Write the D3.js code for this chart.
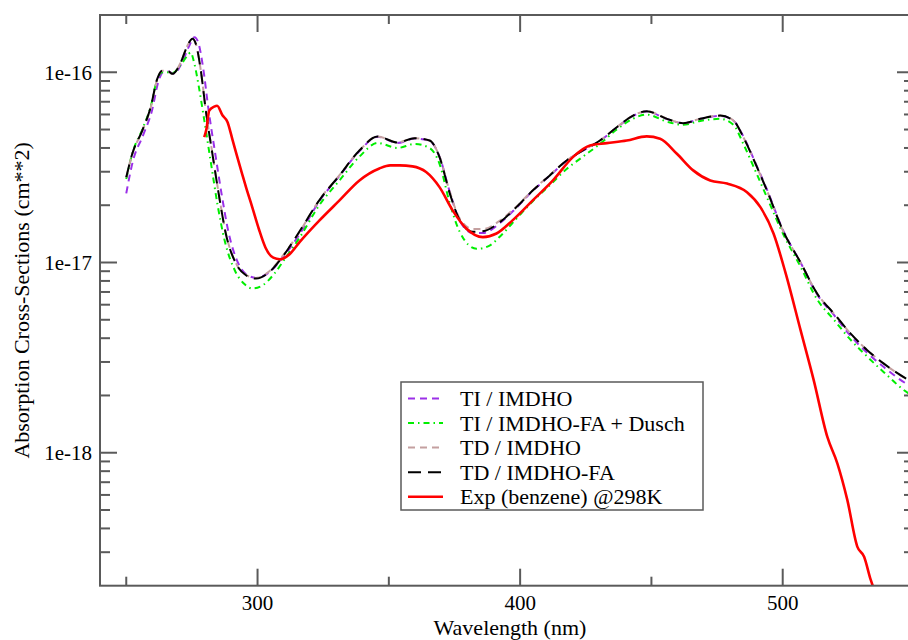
<!DOCTYPE html>
<html><head><meta charset="utf-8">
<script src="https://cdn.jsdelivr.net/npm/d3@7/dist/d3.min.js"></script>
<style>body{margin:0;background:#fff}svg{display:block}text{font-family:"Liberation Serif","Times New Roman",serif}</style>
</head><body>
<svg id="c" width="908" height="640"></svg>
<script>
// ---------- data ----------
const xTicksMajor = [300, 400, 500];
const xTicksMinor = [250, 350, 450, 550];
const yTicksMajor = [1e-18, 1e-17, 1e-16];

const wlTIIMDHO = [250,252.5,256.5,259.8,262.3,264,266,268,271.2,273.8,276,277.3,279.3,281.3,283.8,286.4,288.9,292.5,296,299.6,304.5,309.5,315.9,323.5,331.2,338.8,345.7,353.3,359.8,365.5,369.3,373.2,377,382,385.8,392.3,398.6,404.8,411.3,417.7,423.9,430.4,436.8,443,448.2,455.9,462.1,468.6,476.2,481.2,485,490.2,494,500.3,506.8,513.1,519.5,525.8,532.2,538.5,548,550];
const sigTIIMDHO = [2.31e-17,3.4e-17,4.7e-17,6.3e-17,9.0e-17,1.0e-16,1.01e-16,9.8e-17,1.12e-16,1.36e-16,1.53e-16,1.45e-16,1.05e-16,6.4e-17,3.8e-17,2.25e-17,1.45e-17,1.0e-17,8.6e-18,8.3e-18,8.9e-18,1.06e-17,1.4e-17,2.1e-17,2.85e-17,3.85e-17,4.58e-17,4.25e-17,4.48e-17,4.36e-17,3.6e-17,2.35e-17,1.66e-17,1.43e-17,1.43e-17,1.61e-17,1.94e-17,2.38e-17,2.86e-17,3.43e-17,3.87e-17,4.36e-17,5.12e-17,5.9e-17,6.22e-17,5.68e-17,5.4e-17,5.68e-17,5.9e-17,5.58e-17,4.6e-17,3.2e-17,2.42e-17,1.46e-17,1.0e-17,6.8e-18,5.3e-18,4.12e-18,3.35e-18,2.82e-18,2.27e-18,2.2e-18];

const wlTIFAD = [250,252.3,256.1,259.3,261.8,263.7,265.6,267.6,270.8,273.3,274.5,276,277.7,279.8,282.3,284.8,287.5,291.5,295,298,302,306,310.5,316,323.5,331.2,338.8,345.7,353.3,359.8,365.5,369.3,373.2,377,383.4,388,393,398.6,404.8,411.3,417.7,423.9,430.4,436.8,443,448.2,455.9,462.1,468.6,476.2,481.2,485,490.2,494,500.3,506.8,513.1,519.5,525.8,532.2,538.5,548,550];
const sigTIFAD = [2.75e-17,3.75e-17,5.0e-17,6.6e-17,9.2e-17,1.0e-16,1.0e-16,9.9e-17,1.1e-16,1.22e-16,1.27e-16,1.1e-16,8.3e-17,5.5e-17,3.3e-17,2.0e-17,1.3e-17,9.0e-18,7.7e-18,7.3e-18,7.6e-18,8.6e-18,1.05e-17,1.35e-17,2.0e-17,2.7e-17,3.6e-17,4.25e-17,4.0e-17,4.2e-17,4.0e-17,3.3e-17,2.05e-17,1.45e-17,1.18e-17,1.22e-17,1.4e-17,1.7e-17,2.1e-17,2.55e-17,3.1e-17,3.6e-17,4.2e-17,5.0e-17,5.7e-17,5.99e-17,5.5e-17,5.3e-17,5.55e-17,5.69e-17,5.3e-17,4.2e-17,2.9e-17,2.2e-17,1.4e-17,9.5e-18,6.4e-18,5.0e-18,3.93e-18,3.2e-18,2.65e-18,2.05e-18,1.98e-18];

const wlTDIMDHO = [250,252.3,256.1,259.3,261.8,263.7,265.6,267.6,270.8,273.3,275.2,276.5,278.4,280.3,282.8,285.4,287.9,291.8,295.6,299.4,304.5,309.5,315.9,323.5,331.2,338.8,345.7,353.3,359.8,365.5,369.3,373.2,377,382,385.8,392.3,398.6,404.8,411.3,417.7,423.9,430.4,436.8,443,448.2,455.9,462.1,468.6,476.2,481.2,485,490.2,494,500.3,506.8,513.1,519.5,525.8,532.2,538.5,548,550];
const sigTDIMDHO = [2.8e-17,3.72e-17,4.93e-17,6.5e-17,9.2e-17,1.02e-16,1.02e-16,9.8e-17,1.13e-16,1.38e-16,1.5e-16,1.41e-16,1.02e-16,6.3e-17,3.75e-17,2.22e-17,1.43e-17,9.9e-18,8.6e-18,8.3e-18,9.0e-18,1.08e-17,1.44e-17,2.13e-17,2.88e-17,3.88e-17,4.6e-17,4.28e-17,4.5e-17,4.38e-17,3.6e-17,2.35e-17,1.7e-17,1.5e-17,1.5e-17,1.66e-17,1.97e-17,2.4e-17,2.88e-17,3.44e-17,3.88e-17,4.38e-17,5.14e-17,5.92e-17,6.24e-17,5.7e-17,5.4e-17,5.7e-17,5.92e-17,5.58e-17,4.56e-17,3.17e-17,2.39e-17,1.45e-17,1.0e-17,6.87e-18,5.39e-18,4.24e-18,3.46e-18,2.94e-18,2.41e-18,2.33e-18];

const wlTDFA = [250,252.3,256.1,259.3,261.8,263.7,265.6,267.6,270.8,273.3,275.2,276.5,278.4,280.3,282.8,285.4,287.9,291.8,295.6,299.4,304.5,309.5,315.9,323.5,331.2,338.8,345.7,353.3,359.8,365.5,369.3,373.2,377,382,385.8,392.3,398.6,404.8,411.3,417.7,423.9,430.4,436.8,443,448.2,455.9,462.1,468.6,476.2,481.2,485,490.2,494,500.3,506.8,513.1,519.5,525.8,532.2,538.5,548,550];
const sigTDFA = [2.81e-17,3.73e-17,4.94e-17,6.55e-17,9.23e-17,1.02e-16,1.02e-16,9.81e-17,1.13e-16,1.38e-16,1.5e-16,1.41e-16,1.02e-16,6.29e-17,3.73e-17,2.21e-17,1.42e-17,9.87e-18,8.57e-18,8.23e-18,8.91e-18,1.07e-17,1.45e-17,2.12e-17,2.87e-17,3.88e-17,4.6e-17,4.27e-17,4.5e-17,4.38e-17,3.58e-17,2.31e-17,1.67e-17,1.45e-17,1.46e-17,1.63e-17,1.955e-17,2.39e-17,2.87e-17,3.44e-17,3.88e-17,4.38e-17,5.14e-17,5.92e-17,6.24e-17,5.69e-17,5.4e-17,5.69e-17,5.92e-17,5.58e-17,4.56e-17,3.17e-17,2.39e-17,1.45e-17,1.0e-17,6.87e-18,5.39e-18,4.24e-18,3.46e-18,2.94e-18,2.41e-18,2.33e-18];

const wlExp = [279.7,280.5,281.6,283.5,284.6,286.7,288.5,290.5,292,294.2,295.6,298,300.5,303,306,308.5,312,316,323.5,331.2,338.8,346.4,350.5,354.1,359,364.2,369.3,374.3,379.5,385.8,391,397.2,404.8,412.5,420.1,426.6,433,440.6,448.2,453.3,459.7,465.9,472.4,478.8,486.4,491.5,496.5,501,506.8,511.8,517,520.8,524.6,528.4,531,533.5,535.5];
const sigExp = [4.56e-17,5.0e-17,6.29e-17,6.6e-17,6.67e-17,5.92e-17,5.5e-17,4.4e-17,3.7e-17,2.9e-17,2.49e-17,1.95e-17,1.5e-17,1.2e-17,1.06e-17,1.04e-17,1.1e-17,1.28e-17,1.66e-17,2.12e-17,2.7e-17,3.12e-17,3.24e-17,3.24e-17,3.2e-17,2.99e-17,2.49e-17,1.88e-17,1.51e-17,1.36e-17,1.42e-17,1.67e-17,2.12e-17,2.7e-17,3.58e-17,4.12e-17,4.24e-17,4.38e-17,4.6e-17,4.47e-17,3.73e-17,3.05e-17,2.7e-17,2.6e-17,2.34e-17,1.955e-17,1.42e-17,8.9e-18,4.41e-18,2.41e-18,1.21e-18,8.8e-19,5.65e-19,3.21e-19,2.84e-19,2.15e-19,1.8e-19];

const seriesNames = ["TI / IMDHO","TI / IMDHO-FA + Dusch","TD / IMDHO","TD / IMDHO-FA","Exp (benzene) @298K"];

// ---------- layout ----------
const L = 100, R = 914, T = 15, B = 585.7;
const svg = d3.select("#c");
const x = d3.scaleLinear().domain([240, 550]).range([L, R]);
const y = d3.scaleLog().domain([2e-19, 2e-16]).range([B, T]);

const styles = [
  {wl: wlTIIMDHO, v: sigTIIMDHO, color:"#9b30e8", dash:"7,5", w:2},
  {wl: wlTIFAD,   v: sigTIFAD,   color:"#00ee00", dash:"6,4,1.5,4", w:2},
  {wl: wlTDIMDHO, v: sigTDIMDHO, color:"#c4a0a0", dash:"7,5", w:2},
  {wl: wlTDFA,    v: sigTDFA,    color:"#000000", dash:"13,7", w:2},
  {wl: wlExp,     v: sigExp,     color:"#ff0000", dash:null, w:2.6}
];

svg.append("defs").append("clipPath").attr("id","pc")
  .append("rect").attr("x",L).attr("y",T).attr("width",R-L).attr("height",B-T);

const line = d3.line().x(d=>x(d[0])).y(d=>y(d[1])).curve(d3.curveMonotoneX);
const g = svg.append("g").attr("clip-path","url(#pc)");
styles.forEach(s=>{
  const pts = s.wl.map((w,i)=>[w, s.v[i]]);
  g.append("path").datum(pts).attr("d",line)
    .attr("fill","none").attr("stroke",s.color).attr("stroke-width",s.w)
    .attr("stroke-dasharray",s.dash).attr("stroke-linejoin","round");
});

// ---------- axes (inward ticks on all four sides) ----------
const axisColor = "#5a5a5a";
const yMinor = [];
for (let e=-19; e<=-16; e++) for (let m=2; m<=9; m++){ const v=m*Math.pow(10,e); if (v>2e-19 && v<2e-16) yMinor.push(v); }
const fmtY = d => "1e" + Math.round(Math.log10(d));

const tk = svg.append("g").attr("stroke",axisColor).attr("stroke-width",2);
function xTicks(vals, len){
  vals.forEach(v=>{
    const px = x(v);
    tk.append("line").attr("x1",px).attr("x2",px).attr("y1",B).attr("y2",B-len);
    tk.append("line").attr("x1",px).attr("x2",px).attr("y1",T).attr("y2",T+len);
  });
}
function yTicks(vals, len){
  vals.forEach(v=>{
    const py = y(v);
    tk.append("line").attr("x1",L).attr("x2",L+len).attr("y1",py).attr("y2",py);
    tk.append("line").attr("x1",R).attr("x2",R-len).attr("y1",py).attr("y2",py);
  });
}
xTicks(xTicksMajor, 17); xTicks(xTicksMinor, 9);
yTicks(yTicksMajor, 17); yTicks(yMinor, 10);

svg.append("rect").attr("x",L).attr("y",T).attr("width",R-L).attr("height",B-T)
  .attr("fill","none").attr("stroke",axisColor).attr("stroke-width",2);

svg.append("g").selectAll("text").data(xTicksMajor).join("text")
  .attr("x",d=>x(d)).attr("y",610).attr("text-anchor","middle")
  .style("font-size","21px").text(d=>d3.format("d")(d));
svg.append("g").selectAll("text").data(yTicksMajor).join("text")
  .attr("x",92).attr("y",d=>y(d)).attr("dy","0.35em").attr("text-anchor","end")
  .style("font-size","21px").text(fmtY);

// axis titles
svg.append("text").attr("x",510).attr("y",635).attr("text-anchor","middle")
  .style("font-size","22px").text("Wavelength (nm)");
svg.append("text").attr("transform",`translate(29,${(T+B)/2}) rotate(-90)`).attr("text-anchor","middle")
  .style("font-size","22px").text("Absorption Cross-Sections (cm**2)");

// ---------- legend ----------
const lg = svg.append("g");
lg.append("rect").attr("x",401).attr("y",382).attr("width",302).attr("height",128)
  .attr("fill","#fff").attr("stroke",axisColor).attr("stroke-width",1.5);
const rowY = d3.scaleLinear().domain([0,4]).range([398.5, 496.7]);
styles.forEach((s,i)=>{
  const yy = rowY(i);
  lg.append("line").attr("x1",408).attr("x2",443).attr("y1",yy).attr("y2",yy)
    .attr("stroke",s.color).attr("stroke-width",s.w).attr("stroke-dasharray",s.dash);
  lg.append("text").attr("x",460).attr("y",yy).attr("dy","0.35em")
    .style("font-size","22px").text(seriesNames[i]);
});
</script>
</body></html>
